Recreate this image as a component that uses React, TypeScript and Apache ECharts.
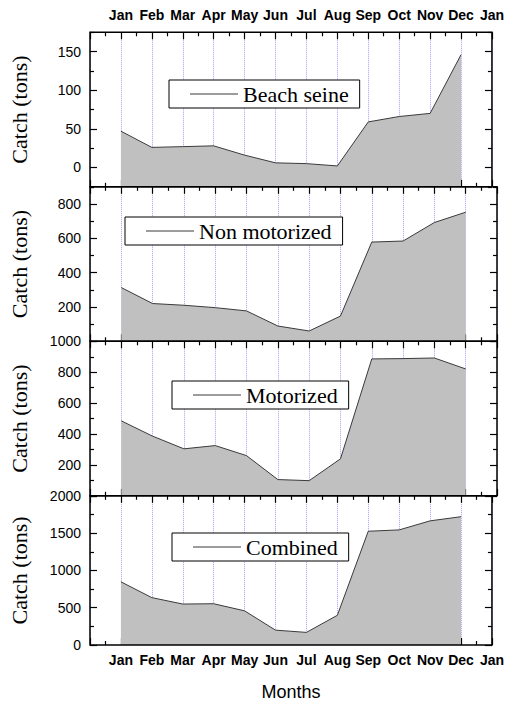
import React, { useEffect, useRef } from 'react';
import * as echarts from 'echarts';

// ---- Data ----
const xTickLabels = ['', 'Jan', 'Feb', 'Mar', 'Apr', 'May', 'Jun', 'Jul', 'Aug', 'Sep', 'Oct', 'Nov', 'Dec', 'Jan'];

const beachSeine = [47, 26, 27, 28, 16, 6, 5, 2, 59, 66, 70, 146];
const nonMotorized = [313, 220, 210, 196, 177, 89, 60, 147, 578, 584, 692, 752];
const motorized = [485, 386, 304, 325, 260, 105, 98, 239, 886, 888, 892, 821];
const combined = [847, 635, 549, 553, 458, 199, 169, 398, 1525, 1543, 1664, 1720];

const panelNames = ['Beach seine', 'Non motorized', 'Motorized', 'Combined'];
const panelValues = [beachSeine, nonMotorized, motorized, combined];

const yMins = [-25, 0, 0, 0];
const yMaxs = [175, 900, 1000, 2000];
// the 0 of panels 2 and 3 sits under the "1000" / "2000" of the panel below
const yLabelValues = [
  [0, 50, 100, 150],
  [200, 400, 600, 800],
  [200, 400, 600, 800, 1000],
  [0, 500, 1000, 1500, 2000],
];
const yMajorTicks = [
  [0, 50, 100, 150],
  [0, 200, 400, 600, 800],
  [0, 200, 400, 600, 800, 1000],
  [0, 500, 1000, 1500, 2000],
];
const yMinorTicks = [
  [-25, 25, 75, 125, 175],
  [100, 300, 500, 700, 900],
  [100, 300, 500, 700, 900],
  [250, 750, 1250, 1750],
];

// ---- Layout ----
const GRID_LEFT = 87;
const GRID_RIGHT = 10;
const GRID_TOPS = [32.3, 186.8, 341.3, 495.8];
const GRID_H = 154.5;
const LEGEND_POS = [
  [169, 80],
  [125, 217],
  [172, 381],
  [172, 533],
];

const SANS = "'Liberation Sans', Arial, Helvetica, sans-serif";
const SERIF = "'Liberation Serif', 'Times New Roman', serif";

function buildOption(): any {
  const grid: any[] = [];
  const xAxis: any[] = [];
  const yAxis: any[] = [];
  const series: any[] = [];
  const legend: any[] = [];

  const tickLine = { color: '#000', width: 1.2 };

  panelNames.forEach((name, g) => {
    grid.push({
      left: GRID_LEFT,
      right: GRID_RIGHT,
      top: GRID_TOPS[g],
      height: GRID_H,
      show: true,
      borderColor: '#000',
      borderWidth: 1.5,
      backgroundColor: 'transparent',
      z: 5,
    });

    const xCommon = {
      gridIndex: g,
      type: 'value',
      min: 0,
      max: 13,
      interval: 1,
      axisLine: { show: false, onZero: false },
      axisTick: { show: true, inside: true, length: 7, lineStyle: tickLine },
      minorTick: { show: true, splitNumber: 2, length: 4, lineStyle: tickLine },
      minorSplitLine: { show: false },
    };
    const xLabel = (show: boolean, margin: number) => ({
      show,
      margin,
      formatter: (v: number) => xTickLabels[Math.round(v)] ?? '',
      fontFamily: SANS,
      fontSize: 14,
      fontWeight: 'bold',
      color: '#000',
    });

    xAxis.push({
      ...xCommon,
      position: 'bottom',
      axisLabel: xLabel(g === 3, 8),
      splitLine: { show: true, lineStyle: { color: '#a0a0f2', type: 'dotted', width: 1 } },
      name: g === 3 ? 'Months' : '',
      nameLocation: 'middle',
      nameGap: 38,
      nameTextStyle: { fontFamily: SANS, fontSize: 18, color: '#000' },
    });
    xAxis.push({
      ...xCommon,
      position: 'top',
      axisLabel: xLabel(g === 0, 10),
      splitLine: { show: false },
    });

    const yCommon = {
      gridIndex: g,
      type: 'value',
      min: yMins[g],
      max: yMaxs[g],
      axisLine: { show: false, onZero: false },
      splitLine: { show: false },
    };
    const yMajor = (position: string, showLabel: boolean) => ({
      ...yCommon,
      position,
      axisTick: { show: true, inside: true, length: 7, lineStyle: tickLine, customValues: yMajorTicks[g] },
      axisLabel: {
        show: showLabel,
        customValues: yLabelValues[g],
        formatter: (v: number) => String(v),
        margin: 9,
        fontFamily: SANS,
        fontSize: 14,
        color: '#000',
      },
    });
    const yMinor = (position: string) => ({
      ...yCommon,
      position,
      axisTick: { show: true, inside: true, length: 4, lineStyle: tickLine, customValues: yMinorTicks[g] },
      axisLabel: { show: false },
    });

    yAxis.push({
      ...yMajor('left', true),
      name: 'Catch (tons)',
      nameLocation: 'middle',
      nameGap: 60,
      nameTextStyle: { fontFamily: SERIF, fontSize: 22, color: '#000' },
    });
    yAxis.push(yMinor('left'));
    yAxis.push(yMajor('right', false));
    yAxis.push(yMinor('right'));

    series.push({
      type: 'line',
      name,
      xAxisIndex: 2 * g,
      yAxisIndex: 4 * g,
      data: panelValues[g].map((v, i) => [i + 1, v]),
      symbol: 'none',
      lineStyle: { color: '#3a3a3a', width: 1 },
      itemStyle: { color: '#3a3a3a' },
      areaStyle: { color: '#c0c0c0', opacity: 1, origin: 'start' },
      z: 2,
    });

    legend.push({
      data: [name],
      left: LEGEND_POS[g][0],
      top: LEGEND_POS[g][1],
      orient: 'horizontal',
      icon: 'rect',
      itemWidth: 48,
      itemHeight: 1,
      padding: [3, 11, 3, 21],
      borderColor: '#000',
      borderWidth: 1,
      borderRadius: 0,
      backgroundColor: '#fff',
      selectedMode: false,
      itemStyle: { color: '#3a3a3a' },
      textStyle: { fontFamily: SERIF, fontSize: 22, color: '#000' },
      z: 6,
    });
  });

  return {
    animation: false,
    backgroundColor: '#fff',
    grid,
    xAxis,
    yAxis,
    series,
    legend,
  };
}

export default function App() {
  const ref = useRef<HTMLDivElement>(null);
  useEffect(() => {
    if (!ref.current) return;
    const chart = echarts.init(ref.current, null, { renderer: 'svg' });
    chart.setOption(buildOption());
    return () => chart.dispose();
  }, []);
  return (
    <div
      ref={ref}
      style={{ position: 'absolute', left: 0, top: 0, width: 507, height: 702, background: '#fff' }}
    />
  );
}
